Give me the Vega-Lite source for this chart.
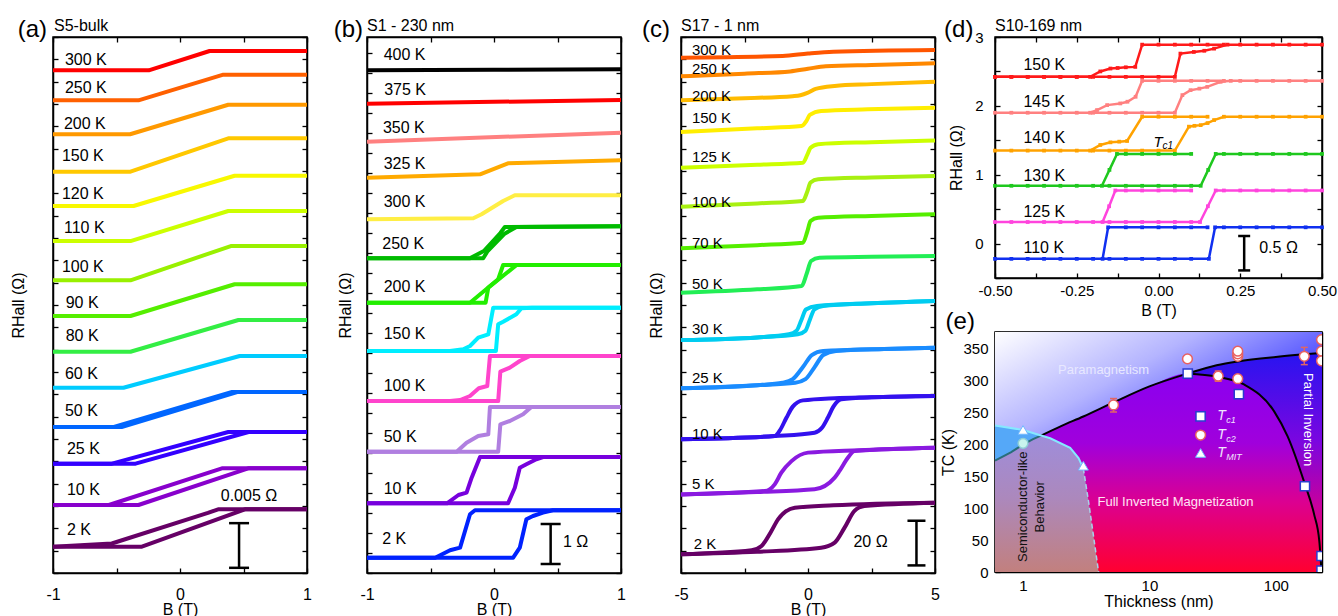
{
"$schema":"https://vega.github.io/schema/vega-lite/v6.json",
"padding":{"left":9,"top":17,"right":0,"bottom":0},
"config":{"font":"Liberation Sans","view":{"stroke":"#000","strokeWidth":1.5},
"axis":{"domain":true,"domainColor":"#000","domainWidth":1.5,"tickColor":"#000","tickWidth":1.3,"tickSize":-5,"labelColor":"#000","labelFontSize":16,"titleFontSize":16,"titleFontWeight":"normal","titleColor":"#000","grid":false,"zindex":1,"labelOverlap":false,"labelBound":false,"labelFlush":false}},
"bounds":"flush","spacing":60,
"resolve":{"scale":{"color":"independent"}},
"hconcat":[
{"width":254,"height":536,
"layer":[
{"data":{"values":[
{"T":"300 K","b":"u","B":-1,"R":0.05627},{"T":"300 K","b":"u","B":-0.246,"R":0.05627},{"T":"300 K","b":"u","B":0.233,"R":0.05843},{"T":"300 K","b":"u","B":1,"R":0.05843},
{"T":"250 K","b":"u","B":-1,"R":0.05291},{"T":"250 K","b":"u","B":-0.327,"R":0.05291},{"T":"250 K","b":"u","B":0.341,"R":0.05578},{"T":"250 K","b":"u","B":1,"R":0.05578},
{"T":"200 K","b":"u","B":-1,"R":0.04911},{"T":"200 K","b":"u","B":-0.393,"R":0.04911},{"T":"200 K","b":"u","B":0.38,"R":0.05242},{"T":"200 K","b":"u","B":1,"R":0.05242},
{"T":"150 K","b":"u","B":-1,"R":0.04492},{"T":"150 K","b":"u","B":-0.39,"R":0.04492},{"T":"150 K","b":"u","B":0.38,"R":0.04866},{"T":"150 K","b":"u","B":1,"R":0.04866},
{"T":"120 K","b":"u","B":-1,"R":0.04108},{"T":"120 K","b":"u","B":-0.366,"R":0.04108},{"T":"120 K","b":"u","B":0.43,"R":0.04447},{"T":"120 K","b":"u","B":1,"R":0.04447},
{"T":"110 K","b":"u","B":-1,"R":0.03716},{"T":"110 K","b":"u","B":-0.39,"R":0.03716},{"T":"110 K","b":"u","B":0.38,"R":0.04052},{"T":"110 K","b":"u","B":1,"R":0.04052},
{"T":"100 K","b":"u","B":-1,"R":0.03276},{"T":"100 K","b":"u","B":-0.39,"R":0.03276},{"T":"100 K","b":"u","B":0.4,"R":0.0366},{"T":"100 K","b":"u","B":1,"R":0.0366},
{"T":"90 K","b":"u","B":-1,"R":0.02877},{"T":"90 K","b":"u","B":-0.39,"R":0.02877},{"T":"90 K","b":"u","B":0.43,"R":0.03232},{"T":"90 K","b":"u","B":1,"R":0.03232},
{"T":"80 K","b":"u","B":-1,"R":0.02477},{"T":"80 K","b":"u","B":-0.39,"R":0.02477},{"T":"80 K","b":"u","B":0.46,"R":0.02832},{"T":"80 K","b":"u","B":1,"R":0.02832},
{"T":"60 K","b":"u","B":-1,"R":0.02074},{"T":"60 K","b":"u","B":-0.445,"R":0.02074},{"T":"60 K","b":"u","B":0.47,"R":0.02429},{"T":"60 K","b":"u","B":1,"R":0.02429},
{"T":"50 K","b":"u","B":-1,"R":0.01634},{"T":"50 K","b":"u","B":-0.46,"R":0.01634},{"T":"50 K","b":"u","B":0.45,"R":0.02026},{"T":"50 K","b":"u","B":1,"R":0.02026},
{"T":"50 K","b":"d","B":-1,"R":0.01634},{"T":"50 K","b":"d","B":-0.52,"R":0.01634},{"T":"50 K","b":"d","B":0.41,"R":0.02026},{"T":"50 K","b":"d","B":1,"R":0.02026},
{"T":"25 K","b":"u","B":-1,"R":0.01224},{"T":"25 K","b":"u","B":-0.35,"R":0.01224},{"T":"25 K","b":"u","B":0.54,"R":0.01578},{"T":"25 K","b":"u","B":1,"R":0.01578},
{"T":"25 K","b":"d","B":-1,"R":0.01224},{"T":"25 K","b":"d","B":-0.536,"R":0.01224},{"T":"25 K","b":"d","B":0.38,"R":0.01578},{"T":"25 K","b":"d","B":1,"R":0.01578},
{"T":"10 K","b":"u","B":-1,"R":0.00761},{"T":"10 K","b":"u","B":-0.327,"R":0.00761},{"T":"10 K","b":"u","B":0.537,"R":0.01172},{"T":"10 K","b":"u","B":1,"R":0.01172},
{"T":"10 K","b":"d","B":-1,"R":0.00761},{"T":"10 K","b":"d","B":-0.56,"R":0.00761},{"T":"10 K","b":"d","B":0.33,"R":0.01172},{"T":"10 K","b":"d","B":1,"R":0.01172},
{"T":"2 K","b":"u","B":-1,"R":0.00294},{"T":"2 K","b":"u","B":-0.3,"R":0.00294},{"T":"2 K","b":"u","B":0.511,"R":0.00713},{"T":"2 K","b":"u","B":1,"R":0.00713},
{"T":"2 K","b":"d","B":-1,"R":0.00294},{"T":"2 K","b":"d","B":-0.537,"R":0.0033},{"T":"2 K","b":"d","B":0.22,"R":0.00672},{"T":"2 K","b":"d","B":0.3,"R":0.00713},{"T":"2 K","b":"d","B":1,"R":0.00713}
]},
"mark":{"type":"line","strokeWidth":4,"strokeJoin":"round"},
"encoding":{
"x":{"field":"B","type":"quantitative","scale":{"domain":[-1,1],"nice":false,"zero":false},"axis":{"orient":"bottom","values":[-1,-0.5,0,0.5,1],"labelExpr":"datum.value==-1?'-1':datum.value==0?'0':datum.value==1?'1':''","title":"B (T)","labelPadding":18,"titleY":28,"titleBaseline":"top"}},
"y":{"field":"R","type":"quantitative","scale":{"domain":[0,0.06],"nice":false,"zero":false},"axis":{"orient":"left","values":[0,0.0025,0.005,0.0075,0.01,0.0125,0.015,0.0175,0.02,0.0225,0.025,0.0275,0.03,0.0325,0.035,0.0375,0.04,0.0425,0.045,0.0475,0.05,0.0525,0.055,0.0575,0.06],"labels":false,"title":"RHall (Ω)","titlePadding":26}},
"color":{"field":"T","type":"nominal","scale":{"domain":["300 K","250 K","200 K","150 K","120 K","110 K","100 K","90 K","80 K","60 K","50 K","25 K","10 K","2 K"],"range":["#ff0000","#ff6000","#ff9900","#ffc800","#f8f800","#ccff00","#99f000","#55ee00","#33ee44","#00ccff","#0066ff","#3300ff","#8800cc","#660066"]},"legend":null},
"detail":{"field":"b","type":"nominal"}}},
{"data":{"values":[{"B":0.465,"R1":0.00058,"R2":0.00558}]},
"mark":{"type":"rule","strokeWidth":2.5,"color":"#000"},
"encoding":{
"x":{"field":"B","type":"quantitative","scale":{"domain":[-1,1],"nice":false,"zero":false},"axis":{"orient":"top","values":[-1,-0.5,0,0.5,1],"labels":false,"title":null}},
"y":{"field":"R1","type":"quantitative","scale":{"domain":[0,0.06],"nice":false,"zero":false},"axis":{"orient":"right","values":[0,0.0025,0.005,0.0075,0.01,0.0125,0.015,0.0175,0.02,0.0225,0.025,0.0275,0.03,0.0325,0.035,0.0375,0.04,0.0425,0.045,0.0475,0.05,0.0525,0.055,0.0575,0.06],"labels":false,"title":null}},
"y2":{"field":"R2"}}},
{"data":{"values":[{"B":0.465,"R":0.00058},{"B":0.465,"R":0.00558}]},
"mark":{"type":"tick","orient":"horizontal","size":20,"thickness":2.5,"color":"#000","opacity":1},
"encoding":{"x":{"field":"B","type":"quantitative","scale":{"domain":[-1,1],"nice":false,"zero":false},"axis":null},"y":{"field":"R","type":"quantitative","scale":{"domain":[0,0.06],"nice":false,"zero":false},"axis":null}}},
{"data":{"values":[
{"lab":"300 K","B":-0.906,"R":0.05743},{"lab":"250 K","B":-0.906,"R":0.05429},{"lab":"200 K","B":-0.914,"R":0.05026},{"lab":"150 K","B":-0.93,"R":0.04668},{"lab":"120 K","B":-0.93,"R":0.04243},{"lab":"110 K","B":-0.914,"R":0.03862},{"lab":"100 K","B":-0.93,"R":0.03425},{"lab":"90 K","B":-0.9,"R":0.03022},{"lab":"80 K","B":-0.9,"R":0.02653},{"lab":"60 K","B":-0.906,"R":0.02228},{"lab":"50 K","B":-0.906,"R":0.01813},{"lab":"25 K","B":-0.89,"R":0.01388},{"lab":"10 K","B":-0.89,"R":0.00929},{"lab":"2 K","B":-0.89,"R":0.00481}]},
"mark":{"type":"text","align":"left","baseline":"middle","fontSize":16},
"encoding":{"x":{"field":"B","type":"quantitative","scale":{"domain":[-1,1],"nice":false,"zero":false},"axis":null},"y":{"field":"R","type":"quantitative","scale":{"domain":[0,0.06],"nice":false,"zero":false},"axis":null},"text":{"field":"lab"}}},
{"data":{"values":[{"lab":"0.005 Ω","B":0.543,"R":0.00862}]},
"mark":{"type":"text","align":"center","baseline":"middle","fontSize":16},
"encoding":{"x":{"field":"B","type":"quantitative","scale":{"domain":[-1,1],"nice":false,"zero":false},"axis":null},"y":{"field":"R","type":"quantitative","scale":{"domain":[0,0.06],"nice":false,"zero":false},"axis":null},"text":{"field":"lab"}}},
{"data":{"values":[{"lab":"(a)","B":-1.047,"R":0.06}]},
"mark":{"type":"text","align":"right","baseline":"alphabetic","fontSize":24},
"encoding":{"x":{"field":"B","type":"quantitative","scale":{"domain":[-1,1],"nice":false,"zero":false},"axis":null},"y":{"field":"R","type":"quantitative","scale":{"domain":[0,0.06],"nice":false,"zero":false},"axis":null},"text":{"field":"lab"}}},
{"data":{"values":[{"lab":"S5-bulk","B":-0.992,"R":0.06067}]},
"mark":{"type":"text","align":"left","baseline":"alphabetic","fontSize":16},
"encoding":{"x":{"field":"B","type":"quantitative","scale":{"domain":[-1,1],"nice":false,"zero":false},"axis":null},"y":{"field":"R","type":"quantitative","scale":{"domain":[0,0.06],"nice":false,"zero":false},"axis":null},"text":{"field":"lab"}}}
],
"resolve":{"axis":{"x":"independent","y":"independent"}}},

{"width":254,"height":536,
"layer":[
{"data":{"values":[
{"T":"400 K","b":"u","B":-1,"R":12.568},{"T":"400 K","b":"u","B":0,"R":12.58},{"T":"400 K","b":"u","B":1,"R":12.593},
{"T":"375 K","b":"u","B":-1,"R":11.733},{"T":"375 K","b":"u","B":1,"R":11.825},
{"T":"350 K","b":"u","B":-1,"R":10.783},{"T":"350 K","b":"u","B":1,"R":11.008},
{"T":"325 K","b":"u","B":-1,"R":9.883},{"T":"325 K","b":"u","B":-0.11,"R":9.968},{"T":"325 K","b":"u","B":0.11,"R":10.243},{"T":"325 K","b":"u","B":1,"R":10.318},
{"T":"300 K","b":"u","B":-1,"R":8.843},{"T":"300 K","b":"u","B":-0.163,"R":8.868},{"T":"300 K","b":"u","B":-0.098,"R":8.968},{"T":"300 K","b":"u","B":0.072,"R":9.3},{"T":"300 K","b":"u","B":0.164,"R":9.443},{"T":"300 K","b":"u","B":1,"R":9.443},
{"T":"250 K","b":"u","B":-1,"R":7.868},{"T":"250 K","b":"u","B":-0.085,"R":7.868},{"T":"250 K","b":"u","B":-0.05,"R":8.05},{"T":"250 K","b":"u","B":0.08,"R":8.475},{"T":"250 K","b":"u","B":0.176,"R":8.65},{"T":"250 K","b":"u","B":1,"R":8.668},
{"T":"250 K","b":"d","B":-1,"R":7.868},{"T":"250 K","b":"d","B":-0.19,"R":7.868},{"T":"250 K","b":"d","B":-0.08,"R":8.05},{"T":"250 K","b":"d","B":0.05,"R":8.5},{"T":"250 K","b":"d","B":0.085,"R":8.65},{"T":"250 K","b":"d","B":1,"R":8.668},
{"T":"200 K","b":"u","B":-1,"R":6.758},{"T":"200 K","b":"u","B":-0.066,"R":6.758},{"T":"200 K","b":"u","B":-0.045,"R":7.133},{"T":"200 K","b":"u","B":0.178,"R":7.7},{"T":"200 K","b":"u","B":1,"R":7.7},
{"T":"200 K","b":"d","B":-1,"R":6.758},{"T":"200 K","b":"d","B":-0.189,"R":6.758},{"T":"200 K","b":"d","B":0.033,"R":7.343},{"T":"200 K","b":"d","B":0.072,"R":7.7},{"T":"200 K","b":"d","B":1,"R":7.7},
{"T":"150 K","b":"u","B":-1,"R":5.55},{"T":"150 K","b":"u","B":0.015,"R":5.55},{"T":"150 K","b":"u","B":0.033,"R":6.218},{"T":"150 K","b":"u","B":0.072,"R":6.283},{"T":"150 K","b":"u","B":0.176,"R":6.467},{"T":"150 K","b":"u","B":0.216,"R":6.618},{"T":"150 K","b":"u","B":0.3,"R":6.633},{"T":"150 K","b":"u","B":1,"R":6.633},
{"T":"150 K","b":"d","B":-1,"R":5.55},{"T":"150 K","b":"d","B":-0.346,"R":5.55},{"T":"150 K","b":"d","B":-0.242,"R":5.593},{"T":"150 K","b":"d","B":-0.189,"R":5.675},{"T":"150 K","b":"d","B":-0.124,"R":5.883},{"T":"150 K","b":"d","B":-0.045,"R":5.968},{"T":"150 K","b":"d","B":-0.006,"R":6.633},{"T":"150 K","b":"d","B":1,"R":6.633},
{"T":"100 K","b":"u","B":-1,"R":4.3},{"T":"100 K","b":"u","B":0.033,"R":4.3},{"T":"100 K","b":"u","B":0.05,"R":5.033},{"T":"100 K","b":"u","B":0.125,"R":5.133},{"T":"100 K","b":"u","B":0.203,"R":5.3},{"T":"100 K","b":"u","B":0.282,"R":5.425},{"T":"100 K","b":"u","B":1,"R":5.425},
{"T":"100 K","b":"d","B":-1,"R":4.3},{"T":"100 K","b":"d","B":-0.346,"R":4.3},{"T":"100 K","b":"d","B":-0.267,"R":4.325},{"T":"100 K","b":"d","B":-0.189,"R":4.425},{"T":"100 K","b":"d","B":-0.12,"R":4.618},{"T":"100 K","b":"d","B":-0.053,"R":4.675},{"T":"100 K","b":"d","B":-0.032,"R":5.425},{"T":"100 K","b":"d","B":1,"R":5.425},
{"T":"50 K","b":"u","B":-1,"R":3.033},{"T":"50 K","b":"u","B":0.033,"R":3.033},{"T":"50 K","b":"u","B":0.05,"R":3.718},{"T":"50 K","b":"u","B":0.125,"R":3.8},{"T":"50 K","b":"u","B":0.229,"R":3.968},{"T":"50 K","b":"u","B":0.294,"R":4.15},{"T":"50 K","b":"u","B":1,"R":4.15},
{"T":"50 K","b":"d","B":-1,"R":3.033},{"T":"50 K","b":"d","B":-0.294,"R":3.033},{"T":"50 K","b":"d","B":-0.216,"R":3.258},{"T":"50 K","b":"d","B":-0.124,"R":3.425},{"T":"50 K","b":"d","B":-0.045,"R":3.468},{"T":"50 K","b":"d","B":-0.032,"R":4.15},{"T":"50 K","b":"d","B":1,"R":4.15},
{"T":"10 K","b":"u","B":-1,"R":1.743},{"T":"10 K","b":"u","B":0.111,"R":1.743},{"T":"10 K","b":"u","B":0.164,"R":2.133},{"T":"10 K","b":"u","B":0.203,"R":2.633},{"T":"10 K","b":"u","B":0.255,"R":2.718},{"T":"10 K","b":"u","B":0.333,"R":2.843},{"T":"10 K","b":"u","B":0.386,"R":2.9},{"T":"10 K","b":"u","B":1,"R":2.9},
{"T":"10 K","b":"d","B":-1,"R":1.743},{"T":"10 K","b":"d","B":-0.37,"R":1.743},{"T":"10 K","b":"d","B":-0.28,"R":1.95},{"T":"10 K","b":"d","B":-0.216,"R":2.008},{"T":"10 K","b":"d","B":-0.176,"R":2.383},{"T":"10 K","b":"d","B":-0.11,"R":2.9},{"T":"10 K","b":"d","B":1,"R":2.9},
{"T":"2 K","b":"u","B":-1,"R":0.383},{"T":"2 K","b":"u","B":0.151,"R":0.383},{"T":"2 K","b":"u","B":0.203,"R":0.633},{"T":"2 K","b":"u","B":0.255,"R":1.343},{"T":"2 K","b":"u","B":0.307,"R":1.425},{"T":"2 K","b":"u","B":0.386,"R":1.508},{"T":"2 K","b":"u","B":0.464,"R":1.568},{"T":"2 K","b":"u","B":1,"R":1.568},
{"T":"2 K","b":"d","B":-1,"R":0.383},{"T":"2 K","b":"d","B":-0.463,"R":0.383},{"T":"2 K","b":"d","B":-0.346,"R":0.568},{"T":"2 K","b":"d","B":-0.267,"R":0.633},{"T":"2 K","b":"d","B":-0.189,"R":1.468},{"T":"2 K","b":"d","B":-0.15,"R":1.568},{"T":"2 K","b":"d","B":1,"R":1.568}
]},
"mark":{"type":"line","strokeWidth":4,"strokeJoin":"round"},
"encoding":{
"x":{"field":"B","type":"quantitative","scale":{"domain":[-1,1],"nice":false,"zero":false},"axis":{"orient":"bottom","values":[-1,-0.5,0,0.5,1],"labelExpr":"datum.value==-1?'-1':datum.value==0?'0':datum.value==1?'1':''","title":"B (T)","labelPadding":18,"titleY":28,"titleBaseline":"top"}},
"y":{"field":"R","type":"quantitative","scale":{"domain":[0,13.4],"nice":false,"zero":false},"axis":{"orient":"left","values":[0,0.5,1,1.5,2,2.5,3,3.5,4,4.5,5,5.5,6,6.5,7,7.5,8,8.5,9,9.5,10,10.5,11,11.5,12,12.5,13],"labels":false,"title":"RHall (Ω)","titlePadding":13}},
"color":{"field":"T","type":"nominal","scale":{"domain":["400 K","375 K","350 K","325 K","300 K","250 K","200 K","150 K","100 K","50 K","10 K","2 K"],"range":["#000000","#ff0000","#ff8080","#ffaa00","#ffee44","#00bb00","#22ee00","#00eeff","#ff44cc","#b07fe0","#7700dd","#0022ff"]},"legend":null},
"detail":{"field":"b","type":"nominal"}}},
{"data":{"values":[{"B":0.446,"R1":0.225,"R2":1.225}]},
"mark":{"type":"rule","strokeWidth":2.5,"color":"#000"},
"encoding":{
"x":{"field":"B","type":"quantitative","scale":{"domain":[-1,1],"nice":false,"zero":false},"axis":{"orient":"top","values":[-1,-0.5,0,0.5,1],"labels":false,"title":null}},
"y":{"field":"R1","type":"quantitative","scale":{"domain":[0,13.4],"nice":false,"zero":false},"axis":{"orient":"right","values":[0,0.5,1,1.5,2,2.5,3,3.5,4,4.5,5,5.5,6,6.5,7,7.5,8,8.5,9,9.5,10,10.5,11,11.5,12,12.5,13],"labels":false,"title":null}},
"y2":{"field":"R2"}}},
{"data":{"values":[{"B":0.446,"R":0.225},{"B":0.446,"R":1.225}]},
"mark":{"type":"tick","orient":"horizontal","size":20,"thickness":2.5,"color":"#000","opacity":1},
"encoding":{"x":{"field":"B","type":"quantitative","scale":{"domain":[-1,1],"nice":false,"zero":false},"axis":null},"y":{"field":"R","type":"quantitative","scale":{"domain":[0,13.4],"nice":false,"zero":false},"axis":null}}},
{"data":{"values":[
{"lab":"400 K","B":-0.869,"R":12.95},{"lab":"375 K","B":-0.865,"R":12.07},{"lab":"350 K","B":-0.875,"R":11.13},{"lab":"325 K","B":-0.869,"R":10.22},{"lab":"300 K","B":-0.869,"R":9.28},{"lab":"250 K","B":-0.88,"R":8.22},{"lab":"200 K","B":-0.869,"R":7.15},{"lab":"150 K","B":-0.869,"R":5.97},{"lab":"100 K","B":-0.869,"R":4.68},{"lab":"50 K","B":-0.869,"R":3.4},{"lab":"10 K","B":-0.869,"R":2.11},{"lab":"2 K","B":-0.88,"R":0.84}]},
"mark":{"type":"text","align":"left","baseline":"middle","fontSize":16},
"encoding":{"x":{"field":"B","type":"quantitative","scale":{"domain":[-1,1],"nice":false,"zero":false},"axis":null},"y":{"field":"R","type":"quantitative","scale":{"domain":[0,13.4],"nice":false,"zero":false},"axis":null},"text":{"field":"lab"}}},
{"data":{"values":[{"lab":"1 Ω","B":0.543,"R":0.78}]},
"mark":{"type":"text","align":"left","baseline":"middle","fontSize":16},
"encoding":{"x":{"field":"B","type":"quantitative","scale":{"domain":[-1,1],"nice":false,"zero":false},"axis":null},"y":{"field":"R","type":"quantitative","scale":{"domain":[0,13.4],"nice":false,"zero":false},"axis":null},"text":{"field":"lab"}}},
{"data":{"values":[{"lab":"(b)","B":-1.031,"R":13.4}]},
"mark":{"type":"text","align":"right","baseline":"alphabetic","fontSize":24},
"encoding":{"x":{"field":"B","type":"quantitative","scale":{"domain":[-1,1],"nice":false,"zero":false},"axis":null},"y":{"field":"R","type":"quantitative","scale":{"domain":[0,13.4],"nice":false,"zero":false},"axis":null},"text":{"field":"lab"}}},
{"data":{"values":[{"lab":"S1 - 230 nm","B":-1.0,"R":13.55}]},
"mark":{"type":"text","align":"left","baseline":"alphabetic","fontSize":16},
"encoding":{"x":{"field":"B","type":"quantitative","scale":{"domain":[-1,1],"nice":false,"zero":false},"axis":null},"y":{"field":"R","type":"quantitative","scale":{"domain":[0,13.4],"nice":false,"zero":false},"axis":null},"text":{"field":"lab"}}}
],
"resolve":{"axis":{"x":"independent","y":"independent"}}},

{"width":254,"height":536,
"layer":[
{"data":{"values":[
{"T":"300 K","b":"u","B":-5,"R":230.7},{"T":"300 K","b":"u","B":-1,"R":231.5},{"T":"300 K","b":"u","B":0,"R":232.6},{"T":"300 K","b":"u","B":1,"R":233.4},{"T":"300 K","b":"u","B":5,"R":234.2},
{"T":"250 K","b":"u","B":-5,"R":222.4},{"T":"250 K","b":"u","B":-2.5,"R":223.6},{"T":"250 K","b":"u","B":-0.7,"R":224.6},{"T":"250 K","b":"u","B":0,"R":225.8},{"T":"250 K","b":"u","B":0.7,"R":226.9},{"T":"250 K","b":"u","B":2.5,"R":227.5},{"T":"250 K","b":"u","B":5,"R":228.2},
{"T":"200 K","b":"u","B":-5,"R":211.7},{"T":"200 K","b":"u","B":-2.5,"R":212.6},{"T":"200 K","b":"u","B":-0.6,"R":213.5},{"T":"200 K","b":"u","B":-0.3,"R":213.9},{"T":"200 K","b":"u","B":0,"R":215.1},{"T":"200 K","b":"u","B":0.3,"R":216.8},{"T":"200 K","b":"u","B":1.05,"R":218.1},{"T":"200 K","b":"u","B":2.5,"R":218.9},{"T":"200 K","b":"u","B":5,"R":220.0},
{"T":"150 K","b":"u","B":-5,"R":197.5},{"T":"150 K","b":"u","B":-2,"R":199.1},{"T":"150 K","b":"u","B":-0.26,"R":200.1},{"T":"150 K","b":"u","B":-0.06,"R":202.4},{"T":"150 K","b":"u","B":0.07,"R":205.1},{"T":"150 K","b":"u","B":0.52,"R":206.9},{"T":"150 K","b":"u","B":2.35,"R":207.6},{"T":"150 K","b":"u","B":5,"R":208.3},
{"T":"125 K","b":"u","B":-5,"R":181.5},{"T":"125 K","b":"u","B":-2,"R":182.8},{"T":"125 K","b":"u","B":-0.2,"R":183.7},{"T":"125 K","b":"u","B":-0.03,"R":187.2},{"T":"125 K","b":"u","B":0.1,"R":190.4},{"T":"125 K","b":"u","B":0.4,"R":192.0},{"T":"125 K","b":"u","B":2.5,"R":192.9},{"T":"125 K","b":"u","B":5,"R":193.7},
{"T":"100 K","b":"u","B":-5,"R":164.0},{"T":"100 K","b":"u","B":-2,"R":165.5},{"T":"100 K","b":"u","B":-0.2,"R":166.6},{"T":"100 K","b":"u","B":-0.03,"R":170.7},{"T":"100 K","b":"u","B":0.1,"R":174.8},{"T":"100 K","b":"u","B":0.4,"R":176.3},{"T":"100 K","b":"u","B":2.5,"R":177.1},{"T":"100 K","b":"u","B":5,"R":177.8},
{"T":"70 K","b":"u","B":-5,"R":145.4},{"T":"70 K","b":"u","B":-2,"R":146.8},{"T":"70 K","b":"u","B":-0.2,"R":147.9},{"T":"70 K","b":"u","B":-0.03,"R":152.8},{"T":"70 K","b":"u","B":0.1,"R":157.6},{"T":"70 K","b":"u","B":0.4,"R":159.1},{"T":"70 K","b":"u","B":2.5,"R":159.9},{"T":"70 K","b":"u","B":5,"R":160.6},
{"T":"50 K","b":"u","B":-5,"R":125.5},{"T":"50 K","b":"u","B":-2,"R":127.0},{"T":"50 K","b":"u","B":-0.25,"R":128.5},{"T":"50 K","b":"u","B":-0.05,"R":134.1},{"T":"50 K","b":"u","B":0.12,"R":139.7},{"T":"50 K","b":"u","B":0.45,"R":141.2},{"T":"50 K","b":"u","B":2.5,"R":141.6},{"T":"50 K","b":"u","B":5,"R":141.9},
{"T":"30 K","b":"u","B":-5,"R":104.3},{"T":"30 K","b":"u","B":-2,"R":105.5},{"T":"30 K","b":"u","B":-0.4,"R":106.9},{"T":"30 K","b":"u","B":-0.1,"R":108.5},{"T":"30 K","b":"u","B":0.07,"R":113.3},{"T":"30 K","b":"u","B":0.25,"R":118.0},{"T":"30 K","b":"u","B":0.6,"R":119.6},{"T":"30 K","b":"u","B":2.5,"R":120.8},{"T":"30 K","b":"u","B":5,"R":121.8},
{"T":"30 K","b":"d","B":-5,"R":104.3},{"T":"30 K","b":"d","B":-2,"R":105.5},{"T":"30 K","b":"d","B":-0.75,"R":106.9},{"T":"30 K","b":"d","B":-0.45,"R":108.5},{"T":"30 K","b":"d","B":-0.26,"R":113.3},{"T":"30 K","b":"d","B":-0.08,"R":118.0},{"T":"30 K","b":"d","B":0.35,"R":119.6},{"T":"30 K","b":"d","B":2.5,"R":120.8},{"T":"30 K","b":"d","B":5,"R":121.8},
{"T":"25 K","b":"u","B":-5,"R":82.7},{"T":"25 K","b":"u","B":-2,"R":84.1},{"T":"25 K","b":"u","B":-0.5,"R":85.2},{"T":"25 K","b":"u","B":-0.1,"R":86.8},{"T":"25 K","b":"u","B":0.26,"R":92.2},{"T":"25 K","b":"u","B":0.6,"R":97.6},{"T":"25 K","b":"u","B":1.1,"R":99.4},{"T":"25 K","b":"u","B":3,"R":100.3},{"T":"25 K","b":"u","B":5,"R":100.9},
{"T":"25 K","b":"d","B":-5,"R":82.7},{"T":"25 K","b":"d","B":-2,"R":84.1},{"T":"25 K","b":"d","B":-1.0,"R":85.2},{"T":"25 K","b":"d","B":-0.6,"R":86.8},{"T":"25 K","b":"d","B":-0.2,"R":92.2},{"T":"25 K","b":"d","B":0.15,"R":97.6},{"T":"25 K","b":"d","B":0.6,"R":99.4},{"T":"25 K","b":"d","B":3,"R":100.3},{"T":"25 K","b":"d","B":5,"R":100.9},
{"T":"10 K","b":"u","B":-5,"R":59.9},{"T":"10 K","b":"u","B":-1.3,"R":61.3},{"T":"10 K","b":"u","B":0.26,"R":62.8},{"T":"10 K","b":"u","B":0.55,"R":65.0},{"T":"10 K","b":"u","B":0.78,"R":69.5},{"T":"10 K","b":"u","B":1.0,"R":74.5},{"T":"10 K","b":"u","B":1.31,"R":77.8},{"T":"10 K","b":"u","B":2.5,"R":78.7},{"T":"10 K","b":"u","B":5,"R":79.3},
{"T":"10 K","b":"d","B":-5,"R":59.9},{"T":"10 K","b":"d","B":-1.31,"R":61.3},{"T":"10 K","b":"d","B":-1.1,"R":64.0},{"T":"10 K","b":"d","B":-0.85,"R":69.5},{"T":"10 K","b":"d","B":-0.6,"R":74.5},{"T":"10 K","b":"d","B":-0.2,"R":77.3},{"T":"10 K","b":"d","B":1.05,"R":78.3},{"T":"10 K","b":"d","B":2.5,"R":78.7},{"T":"10 K","b":"d","B":5,"R":79.3},
{"T":"5 K","b":"u","B":-5,"R":35.2},{"T":"5 K","b":"u","B":-2,"R":36.3},{"T":"5 K","b":"u","B":0.26,"R":37.5},{"T":"5 K","b":"u","B":1.05,"R":42.7},{"T":"5 K","b":"u","B":1.24,"R":45.7},{"T":"5 K","b":"u","B":1.57,"R":51.6},{"T":"5 K","b":"u","B":1.83,"R":54.6},{"T":"5 K","b":"u","B":5,"R":56.1},
{"T":"5 K","b":"d","B":-5,"R":35.2},{"T":"5 K","b":"d","B":-1.7,"R":36.7},{"T":"5 K","b":"d","B":-1.31,"R":39.7},{"T":"5 K","b":"d","B":-1.05,"R":44.9},{"T":"5 K","b":"d","B":-0.65,"R":50.1},{"T":"5 K","b":"d","B":0,"R":53.9},{"T":"5 K","b":"d","B":2,"R":55.0},{"T":"5 K","b":"d","B":5,"R":56.1},
{"T":"2 K","b":"u","B":-5,"R":8.4},{"T":"2 K","b":"u","B":-2,"R":9.5},{"T":"2 K","b":"u","B":0.52,"R":11.3},{"T":"2 K","b":"u","B":1.05,"R":13.6},{"T":"2 K","b":"u","B":1.44,"R":20.3},{"T":"2 K","b":"u","B":1.83,"R":27.8},{"T":"2 K","b":"u","B":2.22,"R":30.0},{"T":"2 K","b":"u","B":5,"R":31.5},
{"T":"2 K","b":"d","B":-5,"R":8.4},{"T":"2 K","b":"d","B":-2.22,"R":10.2},{"T":"2 K","b":"d","B":-1.83,"R":12.1},{"T":"2 K","b":"d","B":-1.44,"R":18.8},{"T":"2 K","b":"d","B":-1.18,"R":24.0},{"T":"2 K","b":"d","B":-0.52,"R":29.2},{"T":"2 K","b":"d","B":1,"R":30.3},{"T":"2 K","b":"d","B":5,"R":31.5}
]},
"mark":{"type":"line","strokeWidth":4,"interpolate":"monotone"},
"encoding":{
"x":{"field":"B","type":"quantitative","scale":{"domain":[-5,5],"nice":false,"zero":false},"axis":{"orient":"bottom","values":[-5,-2.5,0,2.5,5],"labelExpr":"datum.value==-5?'-5':datum.value==0?'0':datum.value==5?'5':''","title":"B (T)","labelPadding":18,"titleY":28,"titleBaseline":"top"}},
"y":{"field":"R","type":"quantitative","scale":{"domain":[0,240],"nice":false,"zero":false},"axis":{"orient":"left","values":[0,10,20,30,40,50,60,70,80,90,100,110,120,130,140,150,160,170,180,190,200,210,220,230,240],"labels":false,"title":"RHall (Ω)","titlePadding":16}},
"color":{"field":"T","type":"nominal","scale":{"domain":["300 K","250 K","200 K","150 K","125 K","100 K","70 K","50 K","30 K","25 K","10 K","5 K","2 K"],"range":["#ff5500","#ff8800","#ffbb00","#ffee00","#ccff00","#a8f010","#55ee00","#22ee55","#00ccf0","#1a8cff","#3311ee","#8a1ae0","#660066"]},"legend":null},
"detail":{"field":"b","type":"nominal"}}},
{"data":{"values":[{"B":4.27,"R1":3.4,"R2":23.4}]},
"mark":{"type":"rule","strokeWidth":2.5,"color":"#000"},
"encoding":{
"x":{"field":"B","type":"quantitative","scale":{"domain":[-5,5],"nice":false,"zero":false},"axis":{"orient":"top","values":[-5,-2.5,0,2.5,5],"labels":false,"title":null}},
"y":{"field":"R1","type":"quantitative","scale":{"domain":[0,240],"nice":false,"zero":false},"axis":{"orient":"right","values":[0,10,20,30,40,50,60,70,80,90,100,110,120,130,140,150,160,170,180,190,200,210,220,230,240],"labels":false,"title":null}},
"y2":{"field":"R2"}}},
{"data":{"values":[{"B":4.27,"R":3.4},{"B":4.27,"R":23.4}]},
"mark":{"type":"tick","orient":"horizontal","size":18,"thickness":2.5,"color":"#000","opacity":1},
"encoding":{"x":{"field":"B","type":"quantitative","scale":{"domain":[-5,5],"nice":false,"zero":false},"axis":null},"y":{"field":"R","type":"quantitative","scale":{"domain":[0,240],"nice":false,"zero":false},"axis":null}}},
{"data":{"values":[
{"lab":"300 K","B":-4.57,"R":234.0},{"lab":"250 K","B":-4.57,"R":225.5},{"lab":"200 K","B":-4.57,"R":213.6},{"lab":"150 K","B":-4.57,"R":203.9},{"lab":"125 K","B":-4.57,"R":186.3},{"lab":"100 K","B":-4.57,"R":166.1},{"lab":"70 K","B":-4.57,"R":147.6},{"lab":"50 K","B":-4.57,"R":129.5},{"lab":"30 K","B":-4.57,"R":109.1},{"lab":"25 K","B":-4.57,"R":87.4},{"lab":"10 K","B":-4.57,"R":62.1},{"lab":"5 K","B":-4.57,"R":40.0},{"lab":"2 K","B":-4.5,"R":12.9}]},
"mark":{"type":"text","align":"left","baseline":"middle","fontSize":15},
"encoding":{"x":{"field":"B","type":"quantitative","scale":{"domain":[-5,5],"nice":false,"zero":false},"axis":null},"y":{"field":"R","type":"quantitative","scale":{"domain":[0,240],"nice":false,"zero":false},"axis":null},"text":{"field":"lab"}}},
{"data":{"values":[{"lab":"20 Ω","B":2.46,"R":14.0}]},
"mark":{"type":"text","align":"center","baseline":"middle","fontSize":16},
"encoding":{"x":{"field":"B","type":"quantitative","scale":{"domain":[-5,5],"nice":false,"zero":false},"axis":null},"y":{"field":"R","type":"quantitative","scale":{"domain":[0,240],"nice":false,"zero":false},"axis":null},"text":{"field":"lab"}}},
{"data":{"values":[{"lab":"(c)","B":-5.43,"R":240}]},
"mark":{"type":"text","align":"right","baseline":"alphabetic","fontSize":24},
"encoding":{"x":{"field":"B","type":"quantitative","scale":{"domain":[-5,5],"nice":false,"zero":false},"axis":null},"y":{"field":"R","type":"quantitative","scale":{"domain":[0,240],"nice":false,"zero":false},"axis":null},"text":{"field":"lab"}}},
{"data":{"values":[{"lab":"S17 - 1 nm","B":-5.0,"R":242.7}]},
"mark":{"type":"text","align":"left","baseline":"alphabetic","fontSize":16},
"encoding":{"x":{"field":"B","type":"quantitative","scale":{"domain":[-5,5],"nice":false,"zero":false},"axis":null},"y":{"field":"R","type":"quantitative","scale":{"domain":[0,240],"nice":false,"zero":false},"axis":null},"text":{"field":"lab"}}}
],
"resolve":{"axis":{"x":"independent","y":"independent"}}},

{"vconcat":[
{"width":327,"height":241,
"layer":[
{"data":{"values":[
{"T":"150 K","b":"u","B":-0.5,"R":2.421},{"T":"150 K","b":"u","B":-0.45,"R":2.421},{"T":"150 K","b":"u","B":-0.4,"R":2.421},{"T":"150 K","b":"u","B":-0.35,"R":2.421},{"T":"150 K","b":"u","B":-0.3,"R":2.421},{"T":"150 K","b":"u","B":-0.25,"R":2.421},{"T":"150 K","b":"u","B":-0.2,"R":2.421},{"T":"150 K","b":"u","B":-0.15,"R":2.421},{"T":"150 K","b":"u","B":-0.1,"R":2.421},{"T":"150 K","b":"u","B":-0.05,"R":2.421},{"T":"150 K","b":"u","B":0,"R":2.421},{"T":"150 K","b":"u","B":0.05,"R":2.421},{"T":"150 K","b":"u","B":0.067,"R":2.759},{"T":"150 K","b":"u","B":0.108,"R":2.783},{"T":"150 K","b":"u","B":0.14,"R":2.8},{"T":"150 K","b":"u","B":0.17,"R":2.831},{"T":"150 K","b":"u","B":0.211,"R":2.889},{"T":"150 K","b":"u","B":0.25,"R":2.889},{"T":"150 K","b":"u","B":0.3,"R":2.889},{"T":"150 K","b":"u","B":0.35,"R":2.889},{"T":"150 K","b":"u","B":0.4,"R":2.889},{"T":"150 K","b":"u","B":0.45,"R":2.889},{"T":"150 K","b":"u","B":0.5,"R":2.889},
{"T":"150 K","b":"d","B":-0.5,"R":2.421},{"T":"150 K","b":"d","B":-0.45,"R":2.421},{"T":"150 K","b":"d","B":-0.4,"R":2.421},{"T":"150 K","b":"d","B":-0.35,"R":2.421},{"T":"150 K","b":"d","B":-0.3,"R":2.421},{"T":"150 K","b":"d","B":-0.25,"R":2.421},{"T":"150 K","b":"d","B":-0.209,"R":2.421},{"T":"150 K","b":"d","B":-0.178,"R":2.5},{"T":"150 K","b":"d","B":-0.147,"R":2.542},{"T":"150 K","b":"d","B":-0.125,"R":2.55},{"T":"150 K","b":"d","B":-0.1,"R":2.56},{"T":"150 K","b":"d","B":-0.071,"R":2.566},{"T":"150 K","b":"d","B":-0.05,"R":2.889},{"T":"150 K","b":"d","B":0,"R":2.889},{"T":"150 K","b":"d","B":0.05,"R":2.889},{"T":"150 K","b":"d","B":0.1,"R":2.889},{"T":"150 K","b":"d","B":0.15,"R":2.889},{"T":"150 K","b":"d","B":0.2,"R":2.889},
{"T":"145 K","b":"u","B":-0.5,"R":1.9},{"T":"145 K","b":"u","B":-0.45,"R":1.9},{"T":"145 K","b":"u","B":-0.4,"R":1.9},{"T":"145 K","b":"u","B":-0.35,"R":1.9},{"T":"145 K","b":"u","B":-0.3,"R":1.9},{"T":"145 K","b":"u","B":-0.25,"R":1.9},{"T":"145 K","b":"u","B":-0.2,"R":1.9},{"T":"145 K","b":"u","B":-0.15,"R":1.9},{"T":"145 K","b":"u","B":-0.1,"R":1.9},{"T":"145 K","b":"u","B":-0.05,"R":1.9},{"T":"145 K","b":"u","B":0,"R":1.9},{"T":"145 K","b":"u","B":0.05,"R":1.9},{"T":"145 K","b":"u","B":0.073,"R":2.156},{"T":"145 K","b":"u","B":0.098,"R":2.228},{"T":"145 K","b":"u","B":0.125,"R":2.25},{"T":"145 K","b":"u","B":0.149,"R":2.276},{"T":"145 K","b":"u","B":0.19,"R":2.349},{"T":"145 K","b":"u","B":0.221,"R":2.363},{"T":"145 K","b":"u","B":0.25,"R":2.363},{"T":"145 K","b":"u","B":0.3,"R":2.363},{"T":"145 K","b":"u","B":0.35,"R":2.363},{"T":"145 K","b":"u","B":0.4,"R":2.363},{"T":"145 K","b":"u","B":0.45,"R":2.363},{"T":"145 K","b":"u","B":0.5,"R":2.363},
{"T":"145 K","b":"d","B":-0.209,"R":1.9},{"T":"145 K","b":"d","B":-0.188,"R":1.939},{"T":"145 K","b":"d","B":-0.157,"R":2.011},{"T":"145 K","b":"d","B":-0.117,"R":2.035},{"T":"145 K","b":"d","B":-0.095,"R":2.06},{"T":"145 K","b":"d","B":-0.07,"R":2.132},{"T":"145 K","b":"d","B":-0.05,"R":2.363},{"T":"145 K","b":"d","B":0,"R":2.363},{"T":"145 K","b":"d","B":0.05,"R":2.363},{"T":"145 K","b":"d","B":0.1,"R":2.363},{"T":"145 K","b":"d","B":0.15,"R":2.363},{"T":"145 K","b":"d","B":0.2,"R":2.363},
{"T":"140 K","b":"u","B":-0.5,"R":1.35},{"T":"140 K","b":"u","B":-0.45,"R":1.35},{"T":"140 K","b":"u","B":-0.4,"R":1.35},{"T":"140 K","b":"u","B":-0.35,"R":1.35},{"T":"140 K","b":"u","B":-0.3,"R":1.35},{"T":"140 K","b":"u","B":-0.25,"R":1.35},{"T":"140 K","b":"u","B":-0.2,"R":1.35},{"T":"140 K","b":"u","B":-0.15,"R":1.35},{"T":"140 K","b":"u","B":-0.1,"R":1.35},{"T":"140 K","b":"u","B":-0.05,"R":1.35},{"T":"140 K","b":"u","B":0,"R":1.35},{"T":"140 K","b":"u","B":0.05,"R":1.35},{"T":"140 K","b":"u","B":0.093,"R":1.698},{"T":"140 K","b":"u","B":0.11,"R":1.71},{"T":"140 K","b":"u","B":0.129,"R":1.72},{"T":"140 K","b":"u","B":0.15,"R":1.75},{"T":"140 K","b":"u","B":0.17,"R":1.794},{"T":"140 K","b":"u","B":0.2,"R":1.842},{"T":"140 K","b":"u","B":0.25,"R":1.842},{"T":"140 K","b":"u","B":0.3,"R":1.842},{"T":"140 K","b":"u","B":0.35,"R":1.842},{"T":"140 K","b":"u","B":0.4,"R":1.842},{"T":"140 K","b":"u","B":0.45,"R":1.842},{"T":"140 K","b":"u","B":0.5,"R":1.842},
{"T":"140 K","b":"d","B":-0.209,"R":1.35},{"T":"140 K","b":"d","B":-0.178,"R":1.432},{"T":"140 K","b":"d","B":-0.147,"R":1.47},{"T":"140 K","b":"d","B":-0.12,"R":1.48},{"T":"140 K","b":"d","B":-0.096,"R":1.49},{"T":"140 K","b":"d","B":-0.05,"R":1.842},{"T":"140 K","b":"d","B":0,"R":1.842},{"T":"140 K","b":"d","B":0.05,"R":1.842},{"T":"140 K","b":"d","B":0.1,"R":1.842},{"T":"140 K","b":"d","B":0.15,"R":1.842},
{"T":"130 K","b":"u","B":-0.5,"R":0.839},{"T":"130 K","b":"u","B":-0.45,"R":0.839},{"T":"130 K","b":"u","B":-0.4,"R":0.839},{"T":"130 K","b":"u","B":-0.35,"R":0.839},{"T":"130 K","b":"u","B":-0.3,"R":0.839},{"T":"130 K","b":"u","B":-0.25,"R":0.839},{"T":"130 K","b":"u","B":-0.2,"R":0.839},{"T":"130 K","b":"u","B":-0.15,"R":0.839},{"T":"130 K","b":"u","B":-0.1,"R":0.839},{"T":"130 K","b":"u","B":-0.05,"R":0.839},{"T":"130 K","b":"u","B":0,"R":0.839},{"T":"130 K","b":"u","B":0.05,"R":0.839},{"T":"130 K","b":"u","B":0.1,"R":0.839},{"T":"130 K","b":"u","B":0.129,"R":0.839},{"T":"130 K","b":"u","B":0.152,"R":1.07},{"T":"130 K","b":"u","B":0.175,"R":1.302},{"T":"130 K","b":"u","B":0.2,"R":1.302},{"T":"130 K","b":"u","B":0.25,"R":1.302},{"T":"130 K","b":"u","B":0.3,"R":1.302},{"T":"130 K","b":"u","B":0.35,"R":1.302},{"T":"130 K","b":"u","B":0.4,"R":1.302},{"T":"130 K","b":"u","B":0.45,"R":1.302},{"T":"130 K","b":"u","B":0.5,"R":1.302},
{"T":"130 K","b":"d","B":-0.173,"R":0.839},{"T":"130 K","b":"d","B":-0.15,"R":1.07},{"T":"130 K","b":"d","B":-0.127,"R":1.302},{"T":"130 K","b":"d","B":-0.1,"R":1.302},{"T":"130 K","b":"d","B":-0.05,"R":1.302},{"T":"130 K","b":"d","B":0,"R":1.302},{"T":"130 K","b":"d","B":0.05,"R":1.302},{"T":"130 K","b":"d","B":0.1,"R":1.302},
{"T":"125 K","b":"u","B":-0.5,"R":0.313},{"T":"125 K","b":"u","B":-0.45,"R":0.313},{"T":"125 K","b":"u","B":-0.4,"R":0.313},{"T":"125 K","b":"u","B":-0.35,"R":0.313},{"T":"125 K","b":"u","B":-0.3,"R":0.313},{"T":"125 K","b":"u","B":-0.25,"R":0.313},{"T":"125 K","b":"u","B":-0.2,"R":0.313},{"T":"125 K","b":"u","B":-0.15,"R":0.313},{"T":"125 K","b":"u","B":-0.1,"R":0.313},{"T":"125 K","b":"u","B":-0.05,"R":0.313},{"T":"125 K","b":"u","B":0,"R":0.313},{"T":"125 K","b":"u","B":0.05,"R":0.313},{"T":"125 K","b":"u","B":0.1,"R":0.313},{"T":"125 K","b":"u","B":0.127,"R":0.313},{"T":"125 K","b":"u","B":0.151,"R":0.542},{"T":"125 K","b":"u","B":0.175,"R":0.771},{"T":"125 K","b":"u","B":0.2,"R":0.771},{"T":"125 K","b":"u","B":0.25,"R":0.771},{"T":"125 K","b":"u","B":0.3,"R":0.771},{"T":"125 K","b":"u","B":0.35,"R":0.771},{"T":"125 K","b":"u","B":0.4,"R":0.771},{"T":"125 K","b":"u","B":0.45,"R":0.771},{"T":"125 K","b":"u","B":0.5,"R":0.771},
{"T":"125 K","b":"d","B":-0.171,"R":0.313},{"T":"125 K","b":"d","B":-0.151,"R":0.542},{"T":"125 K","b":"d","B":-0.132,"R":0.771},{"T":"125 K","b":"d","B":-0.1,"R":0.771},{"T":"125 K","b":"d","B":-0.05,"R":0.771},{"T":"125 K","b":"d","B":0,"R":0.771},{"T":"125 K","b":"d","B":0.05,"R":0.771},{"T":"125 K","b":"d","B":0.1,"R":0.771},
{"T":"110 K","b":"u","B":-0.5,"R":-0.222},{"T":"110 K","b":"u","B":-0.45,"R":-0.222},{"T":"110 K","b":"u","B":-0.4,"R":-0.222},{"T":"110 K","b":"u","B":-0.35,"R":-0.222},{"T":"110 K","b":"u","B":-0.3,"R":-0.222},{"T":"110 K","b":"u","B":-0.25,"R":-0.222},{"T":"110 K","b":"u","B":-0.2,"R":-0.222},{"T":"110 K","b":"u","B":-0.15,"R":-0.222},{"T":"110 K","b":"u","B":-0.1,"R":-0.222},{"T":"110 K","b":"u","B":-0.05,"R":-0.222},{"T":"110 K","b":"u","B":0,"R":-0.222},{"T":"110 K","b":"u","B":0.05,"R":-0.222},{"T":"110 K","b":"u","B":0.1,"R":-0.222},{"T":"110 K","b":"u","B":0.154,"R":-0.222},{"T":"110 K","b":"u","B":0.173,"R":0.236},{"T":"110 K","b":"u","B":0.2,"R":0.236},{"T":"110 K","b":"u","B":0.25,"R":0.236},{"T":"110 K","b":"u","B":0.3,"R":0.236},{"T":"110 K","b":"u","B":0.35,"R":0.236},{"T":"110 K","b":"u","B":0.4,"R":0.236},{"T":"110 K","b":"u","B":0.45,"R":0.236},{"T":"110 K","b":"u","B":0.5,"R":0.236},
{"T":"110 K","b":"d","B":-0.171,"R":-0.222},{"T":"110 K","b":"d","B":-0.154,"R":0.236},{"T":"110 K","b":"d","B":-0.1,"R":0.236},{"T":"110 K","b":"d","B":-0.05,"R":0.236},{"T":"110 K","b":"d","B":0,"R":0.236},{"T":"110 K","b":"d","B":0.05,"R":0.236},{"T":"110 K","b":"d","B":0.1,"R":0.236},{"T":"110 K","b":"d","B":0.15,"R":0.236}
]},
"mark":{"type":"line","strokeWidth":2.5,"point":{"filled":true,"shape":"square","size":14,"opacity":1}},
"encoding":{
"x":{"field":"B","type":"quantitative","scale":{"domain":[-0.5,0.5],"nice":false,"zero":false},"axis":{"orient":"bottom","values":[-0.5,-0.375,-0.25,-0.125,0,0.125,0.25,0.375,0.5],"labelExpr":"abs(datum.value*4-round(datum.value*4))<0.001?(datum.value<0?'-':'')+format(abs(datum.value),'.2f'):''","title":"B (T)","labelPadding":10,"titlePadding":4,"labelFontSize":15}},
"y":{"field":"R","type":"quantitative","scale":{"domain":[-0.5,3],"nice":false,"zero":false},"axis":{"orient":"left","values":[-0.5,0,0.5,1,1.5,2,2.5,3],"labelExpr":"datum.value%1==0?format(datum.value,'d'):''","title":"RHall (Ω)","titlePadding":10,"labelPadding":17,"labelFontSize":15}},
"color":{"field":"T","type":"nominal","scale":{"domain":["150 K","145 K","140 K","130 K","125 K","110 K"],"range":["#ff1a1a","#ff8080","#ffa200","#1ec81e","#ff44dd","#1030f0"]},"legend":null},
"detail":{"field":"b","type":"nominal"}}},
{"data":{"values":[{"B":0.262,"R1":-0.39,"R2":0.11}]},
"mark":{"type":"rule","strokeWidth":2.5,"color":"#000"},
"encoding":{
"x":{"field":"B","type":"quantitative","scale":{"domain":[-0.5,0.5],"nice":false,"zero":false},"axis":{"orient":"top","values":[-0.5,-0.375,-0.25,-0.125,0,0.125,0.25,0.375,0.5],"labels":false,"title":null}},
"y":{"field":"R1","type":"quantitative","scale":{"domain":[-0.5,3],"nice":false,"zero":false},"axis":{"orient":"right","values":[-0.5,0,0.5,1,1.5,2,2.5,3],"labels":false,"title":null}},
"y2":{"field":"R2"}}},
{"data":{"values":[{"B":0.262,"R":-0.39},{"B":0.262,"R":0.11}]},
"mark":{"type":"tick","orient":"horizontal","size":12,"thickness":2.5,"color":"#000","opacity":1},
"encoding":{"x":{"field":"B","type":"quantitative","scale":{"domain":[-0.5,0.5],"nice":false,"zero":false},"axis":null},"y":{"field":"R","type":"quantitative","scale":{"domain":[-0.5,3],"nice":false,"zero":false},"axis":null}}},
{"data":{"values":[{"lab":"150 K","B":-0.413,"R":2.59},{"lab":"145 K","B":-0.413,"R":2.059},{"lab":"140 K","B":-0.413,"R":1.529},{"lab":"130 K","B":-0.413,"R":0.988},{"lab":"125 K","B":-0.413,"R":0.453},{"lab":"110 K","B":-0.413,"R":-0.063},{"lab":"0.5 Ω","B":0.308,"R":-0.063}]},
"mark":{"type":"text","align":"left","baseline":"middle","fontSize":16},
"encoding":{"x":{"field":"B","type":"quantitative","scale":{"domain":[-0.5,0.5],"nice":false,"zero":false},"axis":null},"y":{"field":"R","type":"quantitative","scale":{"domain":[-0.5,3],"nice":false,"zero":false},"axis":null},"text":{"field":"lab"}}},
{"data":{"values":[{"lab":"T","B":-0.015,"R":1.48}]},
"mark":{"type":"text","align":"left","baseline":"middle","fontSize":15,"fontStyle":"italic"},
"encoding":{"x":{"field":"B","type":"quantitative","scale":{"domain":[-0.5,0.5],"nice":false,"zero":false},"axis":null},"y":{"field":"R","type":"quantitative","scale":{"domain":[-0.5,3],"nice":false,"zero":false},"axis":null},"text":{"field":"lab"}}},
{"data":{"values":[{"lab":"c1","B":0.012,"R":1.42}]},
"mark":{"type":"text","align":"left","baseline":"middle","fontSize":10,"fontStyle":"italic"},
"encoding":{"x":{"field":"B","type":"quantitative","scale":{"domain":[-0.5,0.5],"nice":false,"zero":false},"axis":null},"y":{"field":"R","type":"quantitative","scale":{"domain":[-0.5,3],"nice":false,"zero":false},"axis":null},"text":{"field":"lab"}}},
{"data":{"values":[{"lab":"(d)","B":-0.566,"R":3}]},
"mark":{"type":"text","align":"right","baseline":"alphabetic","fontSize":24},
"encoding":{"x":{"field":"B","type":"quantitative","scale":{"domain":[-0.5,0.5],"nice":false,"zero":false},"axis":null},"y":{"field":"R","type":"quantitative","scale":{"domain":[-0.5,3],"nice":false,"zero":false},"axis":null},"text":{"field":"lab"}}},
{"data":{"values":[{"lab":"S10-169 nm","B":-0.5,"R":3.087}]},
"mark":{"type":"text","align":"left","baseline":"alphabetic","fontSize":16},
"encoding":{"x":{"field":"B","type":"quantitative","scale":{"domain":[-0.5,0.5],"nice":false,"zero":false},"axis":null},"y":{"field":"R","type":"quantitative","scale":{"domain":[-0.5,3],"nice":false,"zero":false},"axis":null},"text":{"field":"lab"}}}
],
"resolve":{"axis":{"x":"independent","y":"independent"}}},

{"width":327,"height":240,
"layer":[
{"data":{"values":[{"x1":0.6,"x2":232,"y1":0,"y2":375}]},
"mark":{"type":"rect","fill":{"gradient":"linear","x1":0,"y1":0,"x2":0.75,"y2":1,"stops":[{"offset":0,"color":"#ffffff"},{"offset":0.3,"color":"#b4b4ff"},{"offset":0.6,"color":"#3c3cff"},{"offset":1,"color":"#1a1aff"}]}},
"encoding":{
"x":{"field":"x1","type":"quantitative","scale":{"type":"log","domain":[0.6,232],"nice":false},"axis":{"orient":"bottom","values":[0.6,0.7,0.8,0.9,1,2,3,4,5,6,7,8,9,10,20,30,40,50,60,70,80,90,100,200],"labelExpr":"datum.value==1?'1':datum.value==10?'10':datum.value==100?'100':''","title":"Thickness (nm)","labelPadding":11,"titleY":21,"titleBaseline":"top","labelFontSize":15}},
"x2":{"field":"x2"},
"y":{"field":"y1","type":"quantitative","scale":{"domain":[0,375],"nice":false,"zero":false},"axis":{"orient":"left","values":[0,25,50,75,100,125,150,175,200,225,250,275,300,325,350,375],"labelExpr":"datum.value%50==0&&datum.value<375?format(datum.value,'d'):''","title":"TC (K)","labelPadding":12,"titlePadding":6,"labelFontSize":15}},
"y2":{"field":"y2"}}},
{"data":{"values":[{"nm":0.6,"t":174},{"nm":0.8,"t":187},{"nm":1.0,"t":199},{"nm":1.45,"t":215},{"nm":2,"t":228},{"nm":3,"t":243},{"nm":5.2,"t":265},{"nm":10,"t":290},{"nm":20,"t":310},{"nm":34,"t":323},{"nm":50,"t":329},{"nm":100,"t":336},{"nm":232,"t":342}]},
"mark":{"type":"area","interpolate":"monotone","fill":{"gradient":"linear","x1":0,"y1":0,"x2":0,"y2":1,"stops":[{"offset":0,"color":"#2814f0"},{"offset":0.4,"color":"#7a06e0"},{"offset":0.7,"color":"#c8009c"},{"offset":1,"color":"#ff0030"}]}},
"encoding":{
"x":{"field":"nm","type":"quantitative","scale":{"type":"log","domain":[0.6,232],"nice":false},"axis":{"orient":"top","values":[0.6,0.7,0.8,0.9,1,2,3,4,5,6,7,8,9,10,20,30,40,50,60,70,80,90,100,200],"labels":false,"title":null}},
"y":{"field":"t","type":"quantitative","scale":{"domain":[0,375],"nice":false,"zero":false},"axis":{"orient":"right","values":[0,25,50,75,100,125,150,175,200,225,250,275,300,325,350,375],"labels":false,"title":null}},
"y2":{"datum":0}}},
{"data":{"values":[{"nm":0.6,"t":174},{"nm":0.8,"t":187},{"nm":1.0,"t":199},{"nm":1.45,"t":215},{"nm":2,"t":228},{"nm":3,"t":243},{"nm":5.2,"t":265},{"nm":10,"t":290},{"nm":20,"t":310},{"nm":34.4,"t":305},{"nm":56,"t":293},{"nm":97,"t":251},{"nm":124,"t":212},{"nm":168,"t":140},{"nm":201,"t":90},{"nm":221,"t":48},{"nm":230,"t":0}]},
"mark":{"type":"area","interpolate":"monotone","fill":{"gradient":"linear","x1":0,"y1":0,"x2":0,"y2":1,"stops":[{"offset":0,"color":"#8a00f0"},{"offset":0.35,"color":"#a000dc"},{"offset":0.65,"color":"#dc0090"},{"offset":1,"color":"#ff0030"}]}},
"encoding":{"x":{"field":"nm","type":"quantitative","scale":{"type":"log","domain":[0.6,232],"nice":false},"axis":null},"y":{"field":"t","type":"quantitative","scale":{"domain":[0,375],"nice":false,"zero":false},"axis":null},"y2":{"datum":0}}},
{"data":{"values":[{"nm":0.6,"t":229},{"nm":1.0,"t":222},{"nm":1.64,"t":209},{"nm":2.36,"t":194},{"nm":2.75,"t":178},{"nm":3.0,"t":162},{"nm":3.3,"t":110},{"nm":3.6,"t":58},{"nm":3.96,"t":0}]},
"mark":{"type":"area","fill":{"gradient":"linear","x1":0,"y1":0,"x2":0,"y2":1,"stops":[{"offset":0,"color":"#9c8ee0"},{"offset":0.5,"color":"#ac88bc"},{"offset":1,"color":"#c2807e"}]}},
"encoding":{"x":{"field":"nm","type":"quantitative","scale":{"type":"log","domain":[0.6,232],"nice":false},"axis":null},"y":{"field":"t","type":"quantitative","scale":{"domain":[0,375],"nice":false,"zero":false},"axis":null},"y2":{"datum":0}}},
{"data":{"values":[{"nm":0.6,"lo":174,"hi":229},{"nm":0.8,"lo":187,"hi":225.5},{"nm":1.0,"lo":199,"hi":222},{"nm":1.2,"lo":207.5,"hi":217.2},{"nm":1.4,"lo":213.5,"hi":213.5}]},
"mark":{"type":"area","fill":"#55a8f8"},
"encoding":{"x":{"field":"nm","type":"quantitative","scale":{"type":"log","domain":[0.6,232],"nice":false},"axis":null},"y":{"field":"hi","type":"quantitative","scale":{"domain":[0,375],"nice":false,"zero":false},"axis":null},"y2":{"field":"lo"}}},
{"data":{"values":[{"nm":0.6,"t":174},{"nm":0.8,"t":187},{"nm":1.0,"t":199},{"nm":1.2,"t":207.5},{"nm":1.4,"t":213.5}]},
"mark":{"type":"line","color":"#2a6d7a","strokeWidth":2},
"encoding":{"x":{"field":"nm","type":"quantitative","scale":{"type":"log","domain":[0.6,232],"nice":false},"axis":null},"y":{"field":"t","type":"quantitative","scale":{"domain":[0,375],"nice":false,"zero":false},"axis":null}}},
{"data":{"values":[{"nm":1.4,"t":213.5},{"nm":2,"t":228},{"nm":3,"t":243},{"nm":5.2,"t":265},{"nm":10,"t":290},{"nm":20,"t":310},{"nm":34,"t":323},{"nm":50,"t":329},{"nm":100,"t":336},{"nm":232,"t":342}]},
"mark":{"type":"line","color":"#000","strokeWidth":2,"interpolate":"monotone"},
"encoding":{"x":{"field":"nm","type":"quantitative","scale":{"type":"log","domain":[0.6,232],"nice":false},"axis":null},"y":{"field":"t","type":"quantitative","scale":{"domain":[0,375],"nice":false,"zero":false},"axis":null}}},
{"data":{"values":[{"nm":20,"t":310},{"nm":34.4,"t":305},{"nm":56,"t":293},{"nm":97,"t":251},{"nm":124,"t":212},{"nm":168,"t":140},{"nm":201,"t":90},{"nm":221,"t":48},{"nm":230,"t":0}]},
"mark":{"type":"line","color":"#000","strokeWidth":2,"interpolate":"monotone"},
"encoding":{"x":{"field":"nm","type":"quantitative","scale":{"type":"log","domain":[0.6,232],"nice":false},"axis":null},"y":{"field":"t","type":"quantitative","scale":{"domain":[0,375],"nice":false,"zero":false},"axis":null}}},
{"data":{"values":[{"nm":0.6,"t":229},{"nm":1.0,"t":222},{"nm":1.64,"t":209},{"nm":2.36,"t":194},{"nm":2.75,"t":178},{"nm":3.0,"t":162}]},
"mark":{"type":"line","color":"#86e8ff","strokeWidth":2},
"encoding":{"x":{"field":"nm","type":"quantitative","scale":{"type":"log","domain":[0.6,232],"nice":false},"axis":null},"y":{"field":"t","type":"quantitative","scale":{"domain":[0,375],"nice":false,"zero":false},"axis":null}}},
{"data":{"values":[{"nm":3.0,"t":162},{"nm":3.3,"t":110},{"nm":3.6,"t":58},{"nm":3.96,"t":0}]},
"mark":{"type":"line","color":"#a8d0ea","strokeWidth":1.5,"strokeDash":[5,3]},
"encoding":{"x":{"field":"nm","type":"quantitative","scale":{"type":"log","domain":[0.6,232],"nice":false},"axis":null},"y":{"field":"t","type":"quantitative","scale":{"domain":[0,375],"nice":false,"zero":false},"axis":null}}},
{"data":{"values":[{"nm":5.2,"lo":250,"hi":271},{"nm":35,"lo":298,"hi":314},{"nm":168,"lo":324,"hi":351}]},
"mark":{"type":"rule","color":"#e06666","strokeWidth":1.5},
"encoding":{"x":{"field":"nm","type":"quantitative","scale":{"type":"log","domain":[0.6,232],"nice":false},"axis":null},"y":{"field":"lo","type":"quantitative","scale":{"domain":[0,375],"nice":false,"zero":false},"axis":null},"y2":{"field":"hi"}}},
{"data":{"values":[{"nm":5.2,"t":250},{"nm":5.2,"t":271},{"nm":35,"t":298},{"nm":35,"t":314},{"nm":168,"t":324},{"nm":168,"t":351}]},
"mark":{"type":"tick","orient":"horizontal","size":7,"thickness":1.5,"color":"#e06666","opacity":1},
"encoding":{"x":{"field":"nm","type":"quantitative","scale":{"type":"log","domain":[0.6,232],"nice":false},"axis":null},"y":{"field":"t","type":"quantitative","scale":{"domain":[0,375],"nice":false,"zero":false},"axis":null}}},
{"data":{"values":[{"nm":20.1,"t":310},{"nm":51,"t":278},{"nm":170,"t":134},{"nm":230,"t":25},{"nm":230,"t":2},{"nm":25.4,"t":243}]},
"mark":{"type":"point","shape":"square","filled":true,"fill":"#ffffff","stroke":"#2a3ad0","strokeWidth":1.5,"size":85,"opacity":1,"clip":true},
"encoding":{"x":{"field":"nm","type":"quantitative","scale":{"type":"log","domain":[0.6,232],"nice":false},"axis":null},"y":{"field":"t","type":"quantitative","scale":{"domain":[0,375],"nice":false,"zero":false},"axis":null}}},
{"data":{"values":[{"nm":5.2,"t":261},{"nm":20,"t":333},{"nm":35,"t":306},{"nm":50,"t":302},{"nm":50,"t":337},{"nm":50,"t":341},{"nm":50,"t":345},{"nm":168,"t":337},{"nm":230,"t":363},{"nm":230,"t":345},{"nm":230,"t":330},{"nm":25.4,"t":214}]},
"mark":{"type":"point","shape":"circle","filled":true,"fill":"#ffffff","stroke":"#e86060","strokeWidth":1.5,"size":95,"opacity":1,"clip":true},
"encoding":{"x":{"field":"nm","type":"quantitative","scale":{"type":"log","domain":[0.6,232],"nice":false},"axis":null},"y":{"field":"t","type":"quantitative","scale":{"domain":[0,375],"nice":false,"zero":false},"axis":null}}},
{"data":{"values":[{"nm":1.0,"t":201}]},
"mark":{"type":"point","shape":"circle","filled":true,"fill":"#c8f4ee","stroke":"#8fd0d8","strokeWidth":1.5,"size":95,"opacity":1},
"encoding":{"x":{"field":"nm","type":"quantitative","scale":{"type":"log","domain":[0.6,232],"nice":false},"axis":null},"y":{"field":"t","type":"quantitative","scale":{"domain":[0,375],"nice":false,"zero":false},"axis":null}}},
{"data":{"values":[{"nm":1.0,"t":222},{"nm":3.0,"t":166},{"nm":25.4,"t":186}]},
"mark":{"type":"point","shape":"triangle-up","filled":true,"fill":"#ffffff","stroke":"#70b8ff","strokeWidth":1,"size":100,"opacity":1},
"encoding":{"x":{"field":"nm","type":"quantitative","scale":{"type":"log","domain":[0.6,232],"nice":false},"axis":null},"y":{"field":"t","type":"quantitative","scale":{"domain":[0,375],"nice":false,"zero":false},"axis":null}}},
{"data":{"values":[{"lab":"Paramagnetism","nm":4.34,"t":316}]},
"mark":{"type":"text","align":"center","baseline":"middle","fontSize":13,"color":"#e8e8ff"},
"encoding":{"x":{"field":"nm","type":"quantitative","scale":{"type":"log","domain":[0.6,232],"nice":false},"axis":null},"y":{"field":"t","type":"quantitative","scale":{"domain":[0,375],"nice":false,"zero":false},"axis":null},"text":{"field":"lab"}}},
{"data":{"values":[{"lab":"Full Inverted Magnetization","nm":16.1,"t":110}]},
"mark":{"type":"text","align":"center","baseline":"middle","fontSize":13,"color":"#ffe4f4"},
"encoding":{"x":{"field":"nm","type":"quantitative","scale":{"type":"log","domain":[0.6,232],"nice":false},"axis":null},"y":{"field":"t","type":"quantitative","scale":{"domain":[0,375],"nice":false,"zero":false},"axis":null},"text":{"field":"lab"}}},
{"data":{"values":[{"lab":"Partial Inversion","nm":178.5,"t":238}]},
"mark":{"type":"text","align":"center","baseline":"middle","fontSize":13,"angle":90,"color":"#ffffff"},
"encoding":{"x":{"field":"nm","type":"quantitative","scale":{"type":"log","domain":[0.6,232],"nice":false},"axis":null},"y":{"field":"t","type":"quantitative","scale":{"domain":[0,375],"nice":false,"zero":false},"axis":null},"text":{"field":"lab"}}},
{"data":{"values":[{"lab":"Semiconductor-like","nm":1.0,"t":102},{"lab":"Behavior","nm":1.36,"t":102}]},
"mark":{"type":"text","align":"center","baseline":"middle","fontSize":13,"angle":270,"color":"#111111"},
"encoding":{"x":{"field":"nm","type":"quantitative","scale":{"type":"log","domain":[0.6,232],"nice":false},"axis":null},"y":{"field":"t","type":"quantitative","scale":{"domain":[0,375],"nice":false,"zero":false},"axis":null},"text":{"field":"lab"}}},
{"data":{"values":[{"lab":"T","nm":34.4,"t":243},{"lab":"T","nm":34.4,"t":214},{"lab":"T","nm":34.4,"t":186}]},
"mark":{"type":"text","align":"left","baseline":"middle","fontSize":14,"fontStyle":"italic","color":"#f0e6ff"},
"encoding":{"x":{"field":"nm","type":"quantitative","scale":{"type":"log","domain":[0.6,232],"nice":false},"axis":null},"y":{"field":"t","type":"quantitative","scale":{"domain":[0,375],"nice":false,"zero":false},"axis":null},"text":{"field":"lab"}}},
{"data":{"values":[{"lab":"c1","nm":40.5,"t":237},{"lab":"c2","nm":40.5,"t":208},{"lab":"MIT","nm":40.5,"t":180}]},
"mark":{"type":"text","align":"left","baseline":"middle","fontSize":9,"fontStyle":"italic","color":"#f0e6ff"},
"encoding":{"x":{"field":"nm","type":"quantitative","scale":{"type":"log","domain":[0.6,232],"nice":false},"axis":null},"y":{"field":"t","type":"quantitative","scale":{"domain":[0,375],"nice":false,"zero":false},"axis":null},"text":{"field":"lab"}}},
{"data":{"values":[{"lab":"(e)","nm":0.416,"t":379.7}]},
"mark":{"type":"text","align":"right","baseline":"alphabetic","fontSize":24,"color":"#000"},
"encoding":{"x":{"field":"nm","type":"quantitative","scale":{"type":"log","domain":[0.6,232],"nice":false},"axis":null},"y":{"field":"t","type":"quantitative","scale":{"domain":[0,375],"nice":false,"zero":false},"axis":null},"text":{"field":"lab"}}}
],
"resolve":{"axis":{"x":"independent","y":"independent"}}}
],
"spacing":54,"bounds":"flush","resolve":{"scale":{"color":"independent"}}}
]
}
